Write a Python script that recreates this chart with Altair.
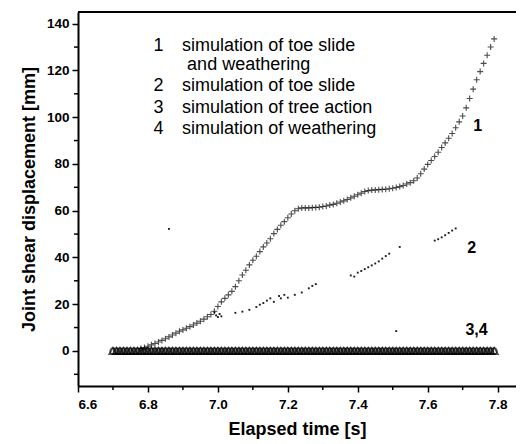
import altair as alt
import pandas as pd

FONT = "Liberation Sans"

# baseline series 3 and 4 (time sampling and zero displacement)
t_base = [round(6.70 + 0.01 * i, 2) for i in range(110)]
y_base = [0.0] * 110

# series 1: simulation of toe slide and weathering
t1 = [round(6.78 + 0.01 * i, 2) for i in range(102)]
y1 = [1.0, 1.5, 2.0, 2.6, 3.2, 3.8, 4.5, 5.2, 6.0, 6.8,
      7.6, 8.4, 9.0, 9.7, 10.4, 11.1, 11.9, 12.7, 13.6, 14.6,
      15.6, 17.0, 19.0, 21.0, 22.5, 24.0, 25.5, 27.5, 30.0, 32.5,
      34.5, 36.8, 38.8, 40.5, 42.5, 44.5, 46.2, 48.0, 50.2, 52.0,
      53.8, 55.3, 57.0, 58.6, 60.0, 60.8, 61.2, 61.2, 61.2, 61.3,
      61.4, 61.5, 61.8, 62.0, 62.4, 62.7, 63.2, 63.7, 64.2, 64.8,
      65.5, 66.2, 66.8, 67.5, 68.2, 68.6, 68.8, 68.9, 69.0, 69.1,
      69.2, 69.4, 69.6, 69.9, 70.3, 70.8, 71.4, 72.0, 72.8, 74.0,
      75.8, 77.8, 79.8, 81.5, 83.2, 85.0, 87.0, 89.0, 91.0, 93.0,
      95.5, 98.0, 100.5, 104.0, 108.0, 112.0, 116.0, 119.5, 123.0, 126.5,
      130.0, 133.5]

# series 2: simulation of toe slide
t2 = [6.99, 6.995, 7.00, 7.005, 7.01, 7.05, 7.07, 7.09, 7.11, 7.12,
      7.13, 7.14, 7.15, 7.16, 7.175, 7.18, 7.19, 7.20, 7.22, 7.24,
      7.26, 7.27, 7.28, 7.38, 7.39, 7.40, 7.41, 7.42, 7.43, 7.44,
      7.45, 7.46, 7.47, 7.48, 7.49, 7.52, 7.62, 7.63, 7.64, 7.65,
      7.66, 7.67, 7.68, 6.86, 7.51]
y2 = [16.5, 15.2, 14.5, 15.8, 14.8, 16.3, 16.8, 17.6, 18.8, 19.8,
      20.5, 21.5, 22.5, 21.0, 23.5, 22.5, 24.0, 22.8, 24.0, 25.0,
      26.8, 27.8, 28.6, 32.3, 31.8, 33.5, 34.2, 35.0, 35.8, 36.6,
      37.4, 38.3, 39.5, 40.6, 41.6, 44.5, 47.2, 47.8, 48.6, 49.5,
      50.5, 51.5, 52.4, 52.2, 8.5]

# legend text
leg_x = [6.8156, 6.8977, 6.912, 6.8156, 6.8977, 6.8156, 6.8977, 6.8156, 6.8977]
leg_y = [128.3, 128.3, 120.0, 111.2, 111.2, 101.9, 101.9, 92.8, 92.8]
leg_text = ["1", "simulation of toe slide", "and weathering",
            "2", "simulation of toe slide",
            "3", "simulation of tree action",
            "4", "simulation of weathering"]

# curve labels
lab_x = [7.73, 7.713, 7.708]
lab_y = [93.9, 41.9, 7.0]
lab_text = ["1", "2", "3,4"]

x_major = [6.6, 6.8, 7.0, 7.2, 7.4, 7.6, 7.8]
x_minor = [6.7, 6.9, 7.1, 7.3, 7.5, 7.7]
y_major = [0, 20, 40, 60, 80, 100, 120, 140]
y_minor = [-10, 10, 30, 50, 70, 90, 110, 130]

x_range = [6.6, 7.8525]
y_range = [-15, 145]

df_base = pd.DataFrame({"t": t_base, "y": y_base})
df1 = pd.DataFrame({"t": t1, "y": y1})
df2 = pd.DataFrame({"t": t2, "y": y2})
df_leg = pd.DataFrame({"t": leg_x, "y": leg_y, "text": leg_text})
df_lab = pd.DataFrame({"t": lab_x, "y": lab_y, "text": lab_text})
df_xmin = pd.DataFrame({"t": x_minor})
df_ymin = pd.DataFrame({"y": y_minor})
df_top = pd.DataFrame({"t": [x_range[0]], "t2": [x_range[1]], "y": [y_range[1]]})

xscale = alt.Scale(domain=x_range, nice=False, zero=False)
yscale = alt.Scale(domain=y_range, nice=False, zero=False)

xaxis = alt.Axis(
    values=x_major, format=".1f", title="Elapsed time [s]", tickSize=6,
    grid=False, domainColor="black", tickColor="black", domainWidth=2, tickWidth=1.5,
    labelFont=FONT, labelFontSize=13.5, labelFontWeight="bold", labelColor="black",
    labelPadding=5, titleFont=FONT, titleFontSize=18, titleFontWeight="bold",
    titleColor="black", titlePadding=10,
)
yaxis = alt.Axis(
    values=y_major, format="d", title="Joint shear displacement [mm]", tickSize=6,
    grid=False, domainColor="black", tickColor="black", domainWidth=2, tickWidth=1.5,
    labelFont=FONT, labelFontSize=13.5, labelFontWeight="bold", labelColor="black",
    labelPadding=3, titleFont=FONT, titleFontSize=18, titleFontWeight="bold",
    titleColor="black", titlePadding=8,
)

base = alt.Chart(df_base).mark_point(
    shape="triangle-up", filled=False, color="black", size=60, strokeWidth=1.5
).encode(x=alt.X("t:Q", scale=xscale, axis=xaxis), y=alt.Y("y:Q", scale=yscale, axis=yaxis))

base2 = alt.Chart(df_base).mark_point(
    shape="circle", filled=False, color="black", size=36, strokeWidth=1.2
).encode(x=alt.X("t:Q", scale=xscale), y=alt.Y("y:Q", scale=yscale))

s1 = alt.Chart(df1).mark_point(
    shape="M-1,0H1M0,-1V1", filled=False, color="black", size=36, strokeWidth=1.1
).encode(x=alt.X("t:Q", scale=xscale), y=alt.Y("y:Q", scale=yscale))

s2 = alt.Chart(df2).mark_point(
    shape="square", filled=True, color="black", size=3.5, opacity=0.9
).encode(x=alt.X("t:Q", scale=xscale), y=alt.Y("y:Q", scale=yscale))

leg = alt.Chart(df_leg).mark_text(
    align="left", baseline="alphabetic", font=FONT, fontSize=18, color="black"
).encode(x=alt.X("t:Q", scale=xscale), y=alt.Y("y:Q", scale=yscale), text="text:N")

lab = alt.Chart(df_lab).mark_text(
    align="left", baseline="alphabetic", font=FONT, fontSize=16, fontWeight="bold", color="black"
).encode(x=alt.X("t:Q", scale=xscale), y=alt.Y("y:Q", scale=yscale), text="text:N")

xminor = alt.Chart(df_xmin).mark_rule(color="black", strokeWidth=1.5).encode(
    x=alt.X("t:Q", scale=xscale),
    y=alt.value(374), y2=alt.value(378),
)
yminor = alt.Chart(df_ymin).mark_rule(color="black", strokeWidth=1.5).encode(
    y=alt.Y("y:Q", scale=yscale),
    x=alt.value(-4), x2=alt.value(0),
)
top = alt.Chart(df_top).mark_rule(color="black", strokeWidth=2).encode(
    x=alt.X("t:Q", scale=xscale), x2="t2:Q", y=alt.Y("y:Q", scale=yscale),
)

chart = alt.layer(base, base2, s1, s2, leg, lab, xminor, yminor, top).properties(
    width=438, height=374,
    autosize=alt.AutoSizeParams(type="none"),
    padding={"left": 70, "top": 4, "right": 0, "bottom": 56},
    background="white",
).configure_view(stroke=None, clip=False)

chart.save("out.html", embed_options={"renderer": "svg", "actions": False})
